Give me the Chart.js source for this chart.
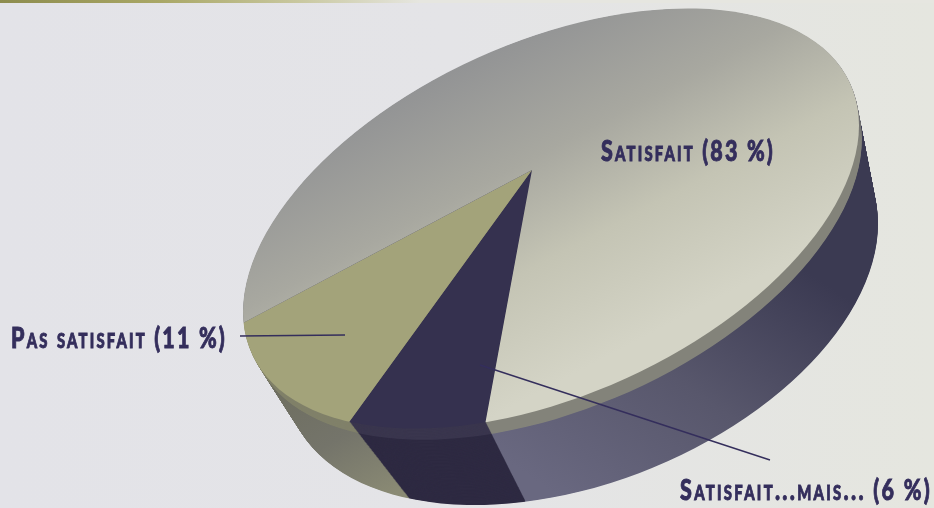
<!DOCTYPE html>
<html lang="fr">
<head>
<meta charset="utf-8">
<title>Satisfaction</title>
<script src="https://cdn.jsdelivr.net/npm/chart.js@4"></script>
<style>
html,body{margin:0;padding:0;width:934px;height:508px;overflow:hidden;background:
 linear-gradient(90deg,#8d8c4e 0,#a9a766 160px,#c9c8a0 300px,#e6e6e0 420px) top left/100% 3px no-repeat,
 linear-gradient(90deg,#e3e3e8 0,#e4e4e7 450px,#e5e6df 934px);}
canvas{display:block}
</style>
</head>
<body>
<canvas id="c" width="934" height="508"></canvas>
<script>
const categories = ['Satisfait...mais...', 'Pas satisfait', 'Satisfait'];
const shares = [6, 11, 83];
const tickLabels = ['Satisfait...mais... (6 %)', 'Pas satisfait (11 %)', 'Satisfait (83 %)'];

const INK = '#342e5c';
const apexTop = [532, 170], apexBot = [566, 282];
const topE = {cx: 551, cy: 218.5, a: 308, b: 210, c: -28700};
const botE = {cx: 581, cy: 298, a: 297, b: 207, c: -22000};
const rays = {d3: [-47, 255], d2: [-180, 248], d1: [-287, 152]};
const ROT = 190, RADIUS = 170, STEPS = 130, BAND = 0.15;

function chol(e) { return [e.a, e.c / e.a, Math.sqrt(e.b * e.b - (e.c * e.c) / (e.a * e.a))]; }
function solve(a, b, v) {
  const det = a[0] * b[1] - a[1] * b[0];
  return [(v[0] * b[1] - v[1] * b[0]) / det, (a[0] * v[1] - a[1] * v[0]) / det];
}
function pieMatrix() {
  const total = shares.reduce((s, v) => s + v, 0);
  const th = (ROT - 90) * Math.PI / 180;
  const u = t => [Math.cos(t), Math.sin(t)];
  const u3 = u(th), u2 = u(th + shares[0] / total * 2 * Math.PI), u1 = u(th + (shares[0] + shares[1]) / total * 2 * Math.PI);
  const [p, q] = solve(u3, u1, u2);
  const [P, Q] = solve(rays.d3, rays.d1, rays.d2);
  const al = P / p, ga = Q / q;
  const A = [al * rays.d3[0], al * rays.d3[1]], B = [ga * rays.d1[0], ga * rays.d1[1]];
  const det = u3[0] * u1[1] - u3[1] * u1[0];
  const inv = [u1[1] / det, -u3[1] / det, -u1[0] / det, u3[0] / det];
  let m = [A[0] * inv[0] + B[0] * inv[1], A[1] * inv[0] + B[1] * inv[1],
           A[0] * inv[2] + B[0] * inv[3], A[1] * inv[2] + B[1] * inv[3]];
  let min = Infinity;
  for (let i = 0; i < 360; i++) {
    const c = Math.cos(i * Math.PI / 180), s = Math.sin(i * Math.PI / 180);
    min = Math.min(min, Math.hypot(m[0] * c + m[2] * s, m[1] * c + m[3] * s));
  }
  const k = 800 / (min * RADIUS);
  return m.map(v => v * k);
}
const M = pieMatrix();

function clipEllipse(ctx, e) {
  const L = chol(e);
  ctx.save();
  ctx.transform(L[0], L[1], 0, L[2], e.cx, e.cy);
  ctx.beginPath();
  ctx.arc(0, 0, 1, 0, Math.PI * 2);
  ctx.restore();
  ctx.clip();
}
function grad(ctx, x0, y0, x1, y1, stops) {
  const inv = ctx.getTransform().inverse();
  const p0 = inv.transformPoint({x: x0, y: y0}), p1 = inv.transformPoint({x: x1, y: y1});
  const g = ctx.createLinearGradient(p0.x, p0.y, p1.x, p1.y);
  stops.forEach(s => g.addColorStop(s[0], s[1]));
  return g;
}
function lerp(a, b, t) { return a + (b - a) * t; }
function lerpE(t) {
  const o = {};
  for (const k in topE) o[k] = lerp(topE[k], botE[k], t);
  return o;
}
function place(ctx, arc, t) {
  ctx.translate(lerp(apexTop[0], apexBot[0], t), lerp(apexTop[1], apexBot[1], t));
  ctx.transform(M[0], M[1], M[2], M[3], 0, 0);
  ctx.translate(-arc.x, -arc.y);
}
function wallFill(ctx, i, t) {
  if (t <= BAND) {
    if (i === 0) return '#3a364e';
    if (i === 1) return '#80816a';
    return grad(ctx, 850, 145, 835, 85, [[0, '#83837a'], [1, '#3d3c55']]);
  }
  if (i === 0) return '#2e2a42';
  if (i === 1) return grad(ctx, 290, 380, 400, 490, [[0, '#6e6e60'], [0.5, '#74746a'], [1, '#8a8a74']]);
  return grad(ctx, 520, 470, 820, 280, [[0, '#696880'], [0.5, '#58576c'], [1, '#3b3a52']]);
}
function faceFill(ctx, i) {
  if (i === 0) return '#35314f';
  if (i === 1) return '#a3a37a';
  return grad(ctx, 400, 100, 620, 350, [[0, '#939495'], [0.35, '#a8a8a0'], [0.65, '#c4c4b4'], [1, '#d4d4c6']]);
}

const tiltPlugin = {
  id: 'tilt',
  beforeDatasetsDraw(chart) {
    const ctx = chart.ctx, arcs = chart.getDatasetMeta(0).data;
    for (let s = STEPS; s >= 1; s--) {
      const t = s / STEPS;
      ctx.save();
      clipEllipse(ctx, lerpE(t));
      place(ctx, arcs[0], t);
      arcs.forEach((arc, i) => {
        arc.options = Object.assign({}, arc.options, {backgroundColor: wallFill(ctx, i, t)});
        arc.draw(ctx);
      });
      ctx.restore();
    }
    ctx.save();
    clipEllipse(ctx, topE);
    place(ctx, arcs[0], 0);
    arcs.forEach((arc, i) => {
      arc.options = Object.assign({}, arc.options, {backgroundColor: faceFill(ctx, i)});
    });
  },
  afterDatasetsDraw(chart) {
    const ctx = chart.ctx;
    ctx.restore();
    ctx.save();
    ctx.strokeStyle = INK;
    ctx.lineWidth = 1.4;
    ctx.beginPath();
    ctx.moveTo(240, 336); ctx.lineTo(345, 335);
    ctx.moveTo(480, 365); ctx.lineTo(770, 460);
    ctx.stroke();
    ctx.restore();
    const spots = [[680, 932, 500], [11, 227, 348], [601, 775, 161]];
    const sx = 0.74;
    tickLabels.forEach((txt, i) => {
      const [x0, x1, y] = spots[i];
      ctx.save();
      ctx.fillStyle = INK;
      ctx.strokeStyle = INK;
      ctx.lineWidth = 0.9;
      ctx.textBaseline = 'alphabetic';
      ctx.font = "small-caps 900 29px Lato";
      ctx.letterSpacing = '0px';
      const w = ctx.measureText(txt).width;
      ctx.letterSpacing = ((x1 - x0) / sx - w) / txt.length + 'px';
      ctx.translate(x0, y);
      ctx.scale(sx, 1);
      ctx.fillText(txt, 0, 0);
      ctx.strokeText(txt, 0, 0);
      ctx.restore();
    });
  }
};

new Chart(document.getElementById('c'), {
  type: 'pie',
  data: {
    labels: categories,
    datasets: [{data: shares, backgroundColor: ['#35314f', '#a3a37a', '#b8b8ac'], borderWidth: 0, clip: false}]
  },
  options: {
    responsive: false,
    animation: false,
    rotation: ROT,
    layout: {padding: {left: 362, right: 232, top: 0, bottom: 168}},
    plugins: {legend: {display: false}, tooltip: {enabled: false}}
  },
  plugins: [tiltPlugin]
});
</script>
</body>
</html>
